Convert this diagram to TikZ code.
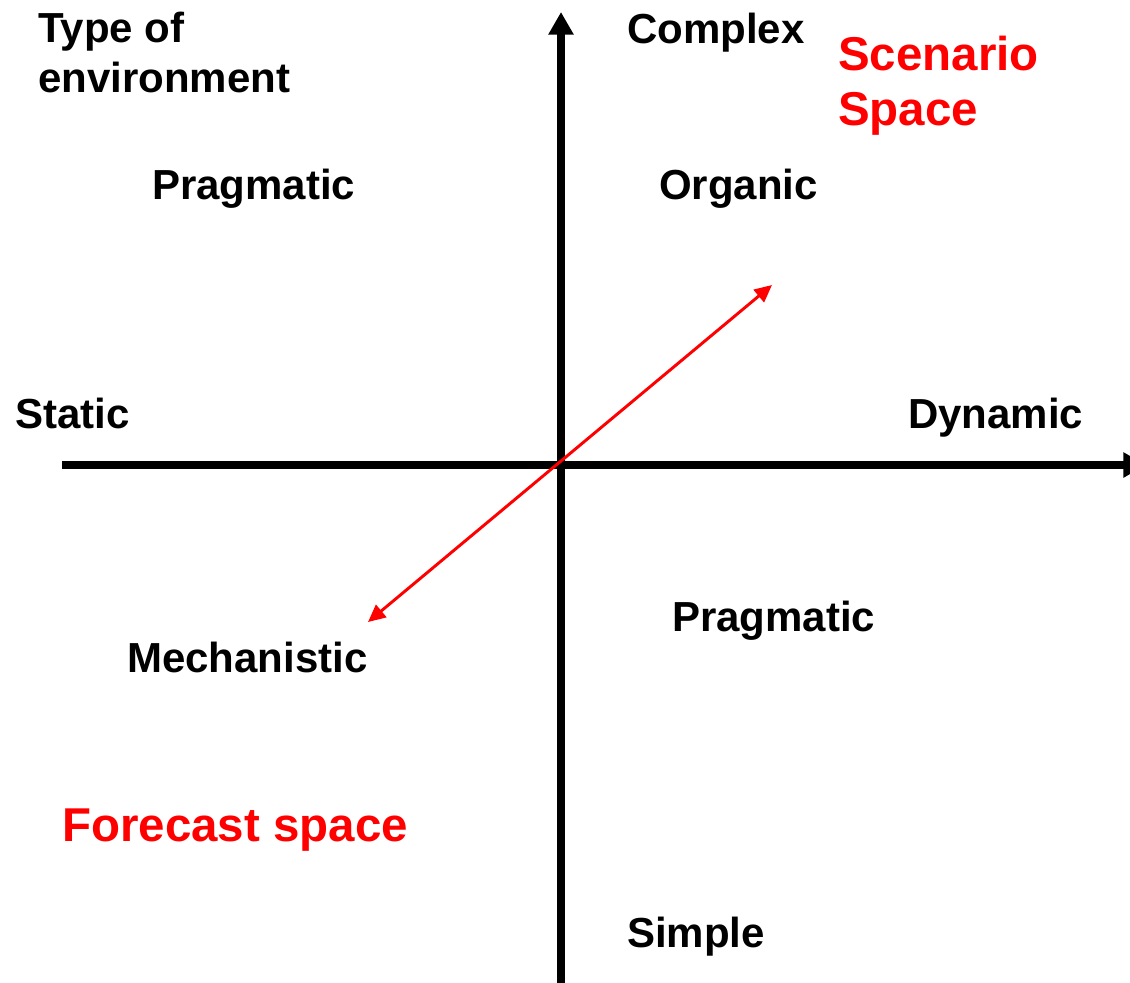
\documentclass[tikz,border=0pt]{standalone}
\usepackage{fontspec}
\setmainfont{Liberation Sans}
\usetikzlibrary{arrows.meta}

\tikzset{
  lbl/.style={font=\fontsize{31.5}{37.5}\selectfont\bfseries, inner sep=0pt, anchor=base west, align=left},
  redlbl/.style={lbl, font=\fontsize{35.6}{41.25}\selectfont\bfseries, text=red},
  axis/.style={line width=6pt, -{Triangle[width=18pt,length=17pt]}},
  span/.style={red, line width=2.2pt, {Triangle[width=12pt,length=13pt]}-{Triangle[width=12pt,length=13pt]}}
}

\begin{document}
\begin{tikzpicture}[x=0.75pt,y=-0.75pt]
\useasboundingbox (0,0) rectangle (1130,982);

% axes
\coordinate (vbot) at (561,985);
\coordinate (vtop) at (561,12);
\coordinate (hleft) at (62,465);
\coordinate (hright) at (1146,465);
\draw[axis] (vbot) -- (vtop);
\draw[axis] (hleft) -- (hright);

% forecast / scenario span
\coordinate (lowend) at (368,622);
\coordinate (highend) at (772,285);
\draw[span] (lowend) -- (highend);

% base anchor of a two-line node sits on its last line
\node[lbl] (title) at (38,92) {Type of\\environment};
\node[lbl] (complex) at (627,43) {Complex};
\node[redlbl] (scenario) at (838,125) {Scenario\\Space};
\node[lbl] (pragtop) at (152,199) {Pragmatic};
\node[lbl] (organic) at (659,199) {Organic};
\node[lbl] (static) at (15,428) {Static};
\node[lbl] (dynamic) at (908,428) {Dynamic};
\node[lbl] (pragbot) at (672,631) {Pragmatic};
\node[lbl] (mech) at (127,672) {Mechanistic};
\node[redlbl] (forecast) at (62,841) {Forecast space};
\node[lbl] (simple) at (627,947) {Simple};
\end{tikzpicture}
\end{document}
